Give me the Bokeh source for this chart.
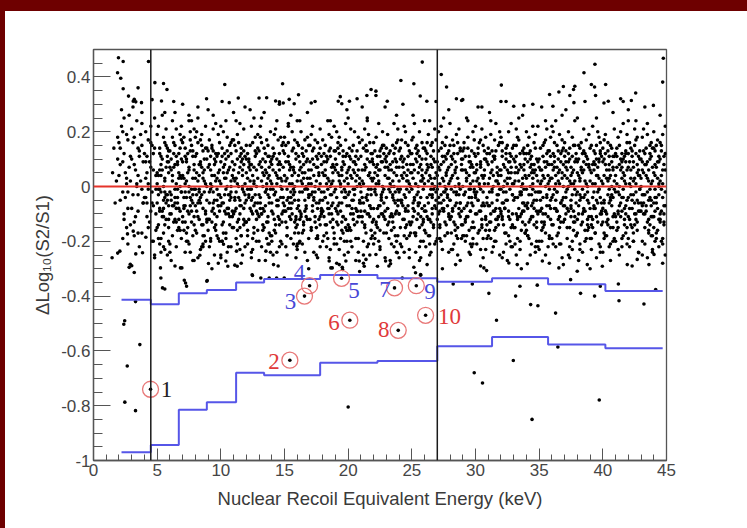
from bokeh.plotting import figure
from bokeh.models import FixedTicker, CustomJSTickFormatter, Span, Div
from bokeh.layouts import column, row
from bokeh.embed import file_html
from bokeh.resources import INLINE
from bokeh.core.properties import value

# ---------------- data ----------------
x_ticks = [0, 5, 10, 15, 20, 25, 30, 35, 40, 45]
x_minor = list(range(0, 46))
y_ticks = [-1.0, -0.8, -0.6, -0.4, -0.2, 0.0, 0.2, 0.4]
y_minor = [round(-1 + 0.05 * i, 2) for i in range(31)]

# dense band, one string per 1 keV column: token = tenth-of-keV digit + y in hundredths
band_1_12 = [
    "5+05 6+14 8+02 9+18 7-06 9+10",
    "0+16 1+08 2+22 3-02 4+12 5+05 6+19 7-08 8+26 9+02 1+14 3+09 5-04 7+17 9+11 2+28 4-12 6+01 8+07 0+04 3+20 6-15",
    "0+10 1-03 2+18 3+06 4+24 5-09 6+13 7+02 8+15 9-06 0+21 2+08 4+00 6+11 8+27 1+16 3-11 5+04 7+19 9+09 2-18 5+14 8-01",
    "0+12 1+03 2-06 3+17 4+09 5+22 6-02 7+06 8+14 9-10 0-04 1+20 2+11 3+01 4-13 5+07 6+15 7-07 8+25 9+04 1+09 3-01 5+16 7+12 9-16 2+05 6-20",
    "0+05 1-03 2+12 3+08 4-11 5+18 6+02 7-06 8+14 9+09 0-15 1+22 2-01 3+04 4+10 5-08 6+16 7+07 8-03 9+13 0+01 1-19 2+06 3+11 4+26 5-05 6+03 7+15 8+09 9-12 0+19 2-09 4+06 6-02 8+11 1+04 3-24 5+00 7+21 9+05 2+14 6-14",
    "0-02 1+10 2+04 3-07 4+15 5+01 6+08 7-12 8+19 9+03 0+13 1-05 2+24 3+07 4-01 5+11 6-16 7+05 8+00 9+17 0+07 1-10 2+02 3+12 4-04 5+21 6+09 7-08 8+14 9-02 1+06 3+16 5-13 7+03 9+10 0-21 2+18 4+08 6-06 8+04 4+27 7+12",
    "0+09 1-04 2+14 3+02 4-09 5+07 6+20 7-01 8+11 9-14 0+16 1+03 2-07 3+10 4+05 5-02 6+13 7+24 8-06 9+08 0-11 1+18 2+01 3-17 4+12 5+06 6-04 7+15 8+03 9+21 1-08 3+09 5+00 7-13 9+06 2+11 4-20 6+17 8-03 0+04 5+26 8+13",
    "0+03 1+12 2-06 3+08 4+17 5-03 6+05 7+10 8-10 9+14 0-07 1+20 2+02 3-01 4+09 5+15 6-14 7+06 8+22 9+00 0+11 1-09 2+16 3+04 4-04 5+07 6+13 7-18 8+01 9+10 1+05 3-12 5+19 7+02 9-05 2+25 4+08 6-22 8+14 0+18 6+03 3-02",
    "0+07 1-02 2+11 3+15 4-08 5+04 6+09 7-05 8+19 9+02 0+13 1-12 2+06 3+00 4+21 5-10 6+12 7+03 8-03 9+16 0-16 1+08 2+01 3+14 4-06 5+10 6+23 7-01 8+05 9-09 1+17 3+04 5-15 7+11 9+06 2-20 4+13 6+02 8-07 0+28 5+08 8+12",
    "0+01 1+14 2+05 3-09 4+10 5+18 6-03 7+07 8+12 9-11 0+09 1-06 2+20 3+03 4-01 5+13 6+06 7-14 8+16 9+04 0-04 1+11 2-17 3+08 4+24 5+00 6-08 7+15 8+02 9+09 1-20 3+12 5+05 7-03 9+17 2+07 4-10 6+11 8+00 0+22 4+03 7-05",
    "0+06 1-05 2+13 3+01 4+16 5-07 6+09 7+04 8-12 9+11 0+17 1+02 2-08 3+10 4+05 5-15 6+14 7+00 8+21 9-03 0-10 1+08 2+03 3+19 4-04 5+11 6-18 7+06 8+13 9+01 1+15 3-13 5+07 7+10 9-06 2+24 4+00 6+12 8-02 0+03 5-23 8+08",
    "0+10 1+03 2-04 3+15 4+08 5-10 6+02 7+18 8+06 9-06 0-13 1+12 2+07 3-01 4+22 5+04 6-07 7+11 8+00 9+14 0+05 1-16 2+09 3+02 4-09 5+16 6+07 7-03 8+12 9+19 1-01 3+06 5-19 7+13 9+03 2+10 4-05 6+25 8-12 0+15 6+01 3+08",
]
band_13_23 = [
    "0-03 1+09 2+16 3-08 4+04 5+12 6+01 7-11 8+07 9+20 0+13 1-06 2+02 3+10 4-15 5+06 6+17 7+03 8-04 9+09 0+08 1+22 2-10 3+00 4+14 5-02 6+05 7+11 8-17 9+02 1+18 3+05 5-07 7+15 9-01 2+07 4+27 6-13 8+11 0-20 5+09 8+04",
    "0+08 1-01 2+12 3+05 4-07 5+17 6+09 7-04 8+02 9+13 0-09 1+06 2+19 3-02 4+10 5+03 6-14 7+08 8+15 9-06 0+01 1+11 2-12 3+21 4+04 5-05 6+12 7+00 8-10 9+07 1+14 3-17 5+08 7+03 9+16 2-03 4+24 6+06 8-21 0+10 4+01 7+18",
    "0+04 1+15 2-05 3+09 4+01 5-12 6+13 7+06 8-02 9+10 0+18 1-09 2+03 3+11 4-06 5+07 6+20 7-03 8+05 9-15 0+12 1+02 2-01 3+16 4+08 5-08 6+04 7+14 8+00 9-11 1+09 3+23 5-04 7+07 9+12 2-18 4+06 6+01 8+17 0-07 5+26 8-13",
    "0+02 1+11 2+06 3-10 4+14 5+03 6-05 7+09 8+18 9+01 0-08 1+15 2-02 3+07 4+12 5-14 6+05 7+00 8+10 9-04 0+16 1+04 2-12 3+20 4+01 5+08 6-09 7+13 8+03 9+06 1-17 3+02 5+11 7-07 9+15 2+09 4-21 6+17 8-01 0+24 4+05 7-11",
    "0+09 1-03 2+13 3+04 4-11 5+07 6+16 7-06 8+01 9+11 0+03 1+19 2-07 3+08 4+00 5-15 6+10 7+05 8+14 9-02 0-12 1+06 2+10 3-04 4+17 5+02 6-08 7+12 8+21 9-09 1+01 3+14 5-19 7+04 9+08 2+22 4-02 6+07 8-14 0+15 5+11 8-05",
    "0+05 1+12 2-04 3+09 4+03 5-08 6+14 7+01 8-12 9+07 0+17 1-02 2+06 3+11 4-06 5+19 6+00 7-10 8+08 9+13 0-05 1+04 2+15 3-14 4+10 5+02 6-03 7+18 8+05 9-17 1+09 3+01 5+13 7-07 9+22 2+04 4-19 6+11 8+02 0-09 4+24 7+07",
    "0-01 1+08 2+14 3+02 4-09 5+06 6+11 7-04 8+17 9+03 0+10 1-13 2+05 3+18 4+00 5-06 6+13 7+08 8-02 9+12 0+06 1+20 2-10 3+04 4+15 5-16 6+09 7+02 8+11 9-07 1-04 3+12 5+07 7-20 9+05 2+16 4+01 6-11 8+23 0+13 5+04 8-15",
    "0+06 1-07 2+10 3+03 4+15 5-03 6+08 7+13 8-11 9+01 0-14 1+11 2+04 3-05 4+09 5+20 6+02 7-09 8+06 9+16 0+01 1+07 2-16 3+13 4-01 5+05 6+11 7-13 8+18 9+03 1+14 3-08 5+09 7+00 9-05 2+21 4+06 6-19 8+10 0+25 4-10 7+04",
    "0+11 1+02 2-06 3+08 4+13 5-10 6+04 7+16 8-03 9+09 0+00 1-11 2+14 3+06 4-04 5+10 6+19 7-07 8+03 9+12 0-09 1+17 2+01 3-14 4+07 5+13 6-01 7+05 8-16 9+10 1+06 3+21 5-05 7+09 9+02 2-20 4+15 6+04 8+12 0-02 5+24 8-08",
    "0+03 1+13 2+07 3-08 4+01 5+11 6-04 7+09 8+15 9-12 0+08 1-02 2+18 3+04 4-11 5+06 6+14 7+00 8-06 9+10 0+16 1+05 2-14 3+11 4+02 5-07 6+09 7+20 8-01 9+04 1-17 3+08 5+13 7-10 9+07 2+01 4+23 6-03 8+12 0-21 4+06 7+15",
    "0-04 1+07 2+12 3+01 4-10 5+15 6+05 7-02 8+09 9+17 0+11 1-08 2+03 3+13 4+06 5-13 6+00 7+10 8+04 9-05 0+14 1+19 2-01 3+08 4-16 5+02 6+12 7-06 8+07 9+21 1+03 3-11 5+09 7+14 9-18 2+06 4+00 6-22 8+16 0+09 5-03 8+26",
]
band_24_34 = [
    "0+07 1-01 2+11 3-12 4+05 5+16 6+02 7-07 8+13 9+08 0-10 1+14 2+04 3+09 4-03 5+20 6-14 7+06 8+01 9+12 0+02 1-05 2+17 3+07 4+10 5-09 6+04 7+15 8-18 9+00 1+10 3+03 5-15 7+11 9+05 2-06 4+22 6+08 8-02 0+13 4-24 7+02",
    "0+12 1+03 2-05 3+10 4+15 5-02 6+07 7-11 8+04 9+14 0+05 1+18 2-09 3+01 4+09 5+13 6-06 7+02 8+16 9-13 0-01 1+08 2+06 3-17 4+12 5+00 6+20 7-04 8+10 9+03 1-08 3+14 5+05 7+08 9-20 2+23 4-12 6+11 8+02 0+17 5-07 8+06",
    "0+01 1+10 2+16 3-06 4+04 5+08 6-10 7+13 8+03 9-02 0+14 1-09 2+06 3+19 4-03 5+11 6+01 7-15 8+09 9+17 0-07 1+05 2+12 3+02 4-12 5+15 6+07 7-01 8+21 9+05 1+13 3-18 5+03 7+10 9-08 2+08 4-21 6+16 8+00 0+24 6-04 3+07",
    "0+09 1-04 2+06 3+14 4-08 5+02 6+11 7+18 8-03 9+07 0-12 1+13 2+01 3-06 4+16 5+09 6-02 7+05 8+12 9-10 0+04 1+20 2-14 3+08 4+03 5-05 6+15 7+10 8-17 9+01 1+07 3+22 5-09 7+04 9+13 2-19 4+11 6+00 8+06 0-01 5+25 8-07",
    "0+02 1+08 2-09 3+12 4+05 5-03 6+16 7+00 8-06 9+10 0+15 1-01 2+04 3-13 4+09 5+19 6+03 7-08 8+14 9+06 0-05 1+11 2+17 3-02 4-16 5+07 6+12 7+01 8-11 9+08 1+03 3+15 5-06 7+21 9-14 2+10 4+00 6-19 8+13 0+23 4+06 7-03",
    "0+06 1+14 2-02 3+05 4-11 5+09 6+01 7+13 8-07 9+17 0+00 1-08 2+11 3+03 4+18 5-04 6+07 7-15 8+02 9+12 0+10 1-03 2+06 3-18 4+14 5+04 6-09 7+08 8+20 9-01 1+16 3+02 5+11 7-06 9+05 2-13 4+24 6+09 8-21 0+13 5-01 8+07",
    "0-03 1+06 2+12 3+01 4+08 5-07 6+15 7+04 8-12 9+09 0+11 1+02 2-05 3+16 4+07 5-14 6+03 7+10 8+18 9-04 0+05 1-10 2+14 3+00 4+09 5+21 6-02 7+06 8-16 9+12 1+08 3-09 5+04 7+13 9-19 2+03 4+17 6-06 8+10 0+22 4-23 7+01",
    "0+08 1-02 2+05 3+13 4-09 5+10 6+02 7-05 8+15 9+06 0-07 1+12 2+19 3-01 4+04 5+11 6-12 7+07 8+01 9+16 0+14 1+03 2-10 3+09 4+00 5-16 6+13 7+05 8-03 9+20 1-13 3+06 5+10 7+02 9-08 2+24 4+11 6-20 8+04 0+01 5+17 8-11",
    "0+04 1+11 2-06 3+07 4+14 5+01 6-09 7+12 8+05 9-03 0+18 1-11 2+08 3+02 4-05 5+15 6+09 7-01 8+11 9-14 0+06 1+16 2+00 3-08 4+10 5+03 6+20 7-12 8+07 9+01 1+13 3-17 5+06 7+09 9+14 2-02 4-21 6+05 8+23 0-10 4+12 7+03",
    "0+10 1+02 2+15 3-04 4+06 5+12 6-10 7+03 8+08 9-07 0+01 1-15 2+11 3+05 4+17 5-02 6+07 7+13 8-09 9+04 0-05 1+09 2+21 3-12 4+02 5+08 6+00 7-06 8+14 9+10 1+05 3+18 5-11 7+01 9-17 2+07 4+25 6-03 8+12 0+15 5-20 8+06",
    "0-01 1+09 2+04 3+13 4-07 5+06 6+16 7-02 8+10 9+02 0+12 1-06 2+18 3+00 4+08 5-11 6+05 7+14 8-05 9+09 0+03 1+15 2-13 3+07 4+11 5+01 6-08 7+19 8+04 9-10 1-18 3+10 5+03 7+06 9+22 2+12 4-03 6+08 8-15 0+20 4+05 7-22",
]
band_35_44 = [
    "0+07 1+01 2-08 3+11 4+03 5+17 6-04 7+08 8+13 9-12 0-02 1+14 2+06 3-10 4+09 5+00 6+12 7+04 8-07 9+18 0+10 1-05 2+02 3+15 4-14 5+07 6+21 7+01 8-01 9+11 1+06 3+04 5-17 7+13 9+03 2-20 4+16 6+09 8+02 0-09 5+24 8+08",
    "0+03 1+12 2+07 3-05 4+15 5+02 6-11 7+09 8+05 9+14 0+08 1-03 2+11 3+01 4-09 5+13 6+06 7-06 8+17 9+00 0-14 1+06 2+16 3+04 4-02 5+10 6+19 7-13 8+03 9+08 1+20 3-08 5+05 7+12 9-04 2+09 4-18 6+01 8+13 0+22 4+07 7-21",
    "0+11 1-04 2+03 3+09 4+14 5-08 6+05 7+01 8-13 9+10 0+16 1+07 2-01 3+12 4+02 5-11 6+18 7+06 8+09 9-06 0+04 1+13 2-15 3+00 4+10 5+07 6-03 7+15 8+02 9-18 1+09 3+20 5+04 7-09 9+12 2+06 4-22 6+11 8+24 0-07 5+01 8+15",
    "0+05 1+10 2-03 3+07 4-10 5+13 6+02 7+17 8-05 9+08 0-12 1+04 2+14 3+06 4-01 5+09 6-16 7+11 8+00 9+19 0+09 1-07 2+03 3+16 4+05 5-09 6+12 7+01 8-14 9+07 1+15 3-04 5+21 7+08 9-11 2+02 4+12 6-20 8+10 0+25 5+06 8-02",
    "0+02 1+15 2+08 3-07 4+12 5+04 6-02 7+10 8+16 9-09 0+06 1-11 2+01 3+13 4+08 5-05 6+20 7+03 8-10 9+11 0+14 1+05 2-04 3+09 4-17 5+15 6+07 7-01 8+12 9+02 1-14 3+06 5+10 7+18 9-06 2+22 4-08 6+04 8+13 0-19 4+01 7+09",
    "0+09 1-06 2+12 3+03 4-12 5+08 6+15 7-03 8+06 9+11 0+01 1+17 2-09 3+06 4+13 5-01 6+04 7+09 8-15 9+02 0-08 1+10 2+19 3-13 4+02 5+11 6-05 7+14 8+07 9+21 1+04 3-18 5+06 7+00 9-10 2+08 4+16 6-21 8+11 0+14 5+03 8-04",
    "0+04 1+11 2-02 3+15 4+06 5-09 6+10 7+02 8+13 9-05 0-11 1+07 2+18 3+00 4-06 5+12 6+05 7-14 8+09 9+16 0+12 1+01 2-10 3+08 4+20 5+03 6-04 7+11 8-17 9+06 1+14 3-07 5+09 7+04 9+19 2-15 4+10 6+23 8+01 0-20 5+07 8+12",
    "0+07 1+01 2+14 3-08 4+09 5+03 6+17 7-05 8+04 9+10 0+12 1-12 2+06 3+11 4-03 5+15 6+01 7+08 8-09 9+13 0-04 1+16 2+03 3-15 4+07 5+21 6-10 7+05 8+11 9-01 1+09 3+13 5-06 7+18 9+04 2+00 4-20 6+12 8+06 0+24 4+02 7-13",
    "0+10 1-03 2+05 3+12 4-07 5+09 6+02 7+15 8-11 9+07 0+03 1+18 2-06 3+08 4+14 5-13 6+06 7-01 8+11 9+02 0-09 1+09 2+13 3-03 4+04 5+19 6-16 7+10 8+01 9+14 1+06 3-10 5+03 7+12 9-18 2+21 4+08 6-05 8+16 0+00 5+23 8-07",
    "0+05 1+13 2-04 3+09 4+01 5+16 6-09 7+06 8+11 9-02 0-06 1+08 2+15 3+03 4-12 5+10 6+04 7+19 8-07 9+12 0+14 1-01 2+07 3-16 4+11 5+02 6+13 7-04 8+08 9+22 1+04 3+17 5-10 7+01 9+06 2-19 4+09 6+15 8-13 0+20 4+00 7-21",
]
# lower half of the band, same encoding, columns 2..23 and 24..44
neg_2_23 = [
    "1-05 4-10 7-02 9-14 3-19 6+03",
    "0-08 2-13 5-03 8-17 4+01 9-06 6-22",
    "1-04 3-15 5-09 7-20 9-01 2-11 6-06 8-25",
    "0-06 1-14 2-21 3-02 4-09 5-17 6-04 7-12 8-25 9-07 1-01 3-19 5-11 7-03 9-15 2-08 6-23 8-05",
    "0-10 1-03 2-18 3-13 4-06 5-22 6-01 7-15 8-09 9-19 0-24 2-07 4-12 6-04 8-16 1-27 5-08 9-02",
    "0-13 1-07 2-02 3-20 4-15 5-10 6-24 7-05 8-18 9-11 1-16 3-04 5-21 7-09 9-01 2-13 6-07 8-27",
    "0-01 1-17 2-11 3-05 4-23 5-14 6-08 7-02 8-20 9-12 0-16 2-26 4-06 6-18 8-09 1-03 5-22 9-13",
    "0-12 1-06 2-19 3-09 4-02 5-25 6-14 7-18 8-07 9-03 1-22 3-13 5-05 7-11 9-20 2-01 6-16 8-28",
    "0-07 1-20 2-13 3-03 4-17 5-08 6-22 7-11 8-02 9-15 0-26 2-06 4-19 6-10 8-04 1-14 5-24 9-09",
    "0-15 1-09 2-02 3-21 4-12 5-05 6-18 7-25 8-08 9-13 1-04 3-16 5-10 7-01 9-22 2-19 6-07 8-14",
    "0-05 1-18 2-12 3-08 4-01 5-23 6-15 7-06 8-20 9-10 0-13 2-03 4-26 6-17 8-09 1-21 5-04 9-16",
    "0-11 1-04 2-22 3-16 4-09 5-02 6-19 7-13 8-06 9-24 1-08 3-14 5-27 7-03 9-18 2-10 6-01 8-21",
    "0-18 1-10 2-03 3-14 4-24 5-07 6-12 7-20 8-01 9-09 0-06 2-16 4-05 6-22 8-13 1-25 5-11 9-04",
    "0-09 1-22 2-15 3-04 4-11 5-19 6-06 7-01 8-17 9-26 1-13 3-08 5-02 7-21 9-12 2-18 6-10 8-05",
    "0-14 1-05 2-20 3-11 4-02 5-16 6-24 7-08 8-12 9-03 0-21 2-09 4-17 6-01 8-27 1-07 5-13 9-19",
    "0-03 1-16 2-09 3-24 4-13 5-06 6-19 7-01 8-22 9-10 1-15 3-05 5-25 7-12 9-08 2-02 6-18 8-11",
    "0-20 1-11 2-04 3-17 4-08 5-26 6-13 7-03 8-15 9-21 0-09 2-14 4-01 6-23 8-06 1-18 5-10 9-02",
    "0-08 1-21 2-14 3-06 4-19 5-02 6-11 7-25 8-04 9-16 1-09 3-23 5-13 7-01 9-20 2-07 6-17 8-12",
    "0-16 1-02 2-10 3-22 4-05 5-14 6-27 7-09 8-19 9-06 0-03 2-20 4-12 6-08 8-24 1-15 5-01 9-11",
    "0-06 1-13 2-25 3-09 4-17 5-03 6-21 7-11 8-01 9-18 1-04 3-15 5-22 7-07 9-13 2-28 6-10 8-19",
    "0-12 1-19 2-03 3-15 4-07 5-23 6-10 7-02 8-17 9-26 0-08 2-13 4-20 6-05 8-11 1-01 5-16 9-09",
    "0-17 1-08 2-13 3-02 4-21 5-11 6-05 7-18 8-24 9-07 1-14 3-27 5-04 7-10 9-01 2-19 6-15 8-09",
]
neg_24_44 = [
    "0-02 1-15 2-22 3-07 4-12 5-04 6-19 7-09 8-26 9-14 0-10 2-05 4-18 6-01 8-13 1-21 5-08 9-17",
    "0-13 1-06 2-17 3-24 4-03 5-10 6-15 7-20 8-08 9-01 1-11 3-18 5-06 7-26 9-12 2-04 6-22 8-14",
    "0-09 1-22 2-04 3-12 4-18 5-01 6-08 7-14 8-21 9-05 0-16 2-11 4-25 6-03 8-07 1-17 5-13 9-20",
    "0-19 1-10 2-15 3-03 4-23 5-08 6-13 7-01 8-17 9-11 1-06 3-20 5-02 7-14 9-24 2-09 6-18 8-04",
    "0-05 1-17 2-08 3-21 4-14 5-02 6-25 7-10 8-06 9-19 0-12 2-23 4-07 6-15 8-01 1-11 5-18 9-09",
    "0-14 1-03 2-20 3-11 4-06 5-16 6-09 7-22 8-13 9-02 1-18 3-07 5-24 7-04 9-15 2-12 6-01 8-19",
    "0-10 1-21 2-05 3-16 4-01 5-12 6-19 7-07 8-23 9-14 0-04 2-17 4-09 6-26 8-11 1-02 5-15 9-06",
    "0-18 1-07 2-13 3-02 4-22 5-09 6-15 7-03 8-11 9-25 1-16 3-06 5-20 7-12 9-01 2-19 6-08 8-14",
    "0-01 1-12 2-24 3-08 4-17 5-05 6-11 7-20 8-15 9-03 0-09 2-14 4-02 6-18 8-22 1-06 5-27 9-10",
    "0-15 1-04 2-10 3-19 4-08 5-23 6-02 7-13 8-06 9-17 1-21 3-11 5-03 7-09 9-14 2-25 6-16 8-01",
    "0-07 1-18 2-03 3-12 4-21 5-06 6-14 7-24 8-09 9-02 0-16 2-19 4-11 6-05 8-13 1-08 5-01 9-22",
    "0-20 1-09 2-16 3-04 4-13 5-25 6-07 7-11 8-18 9-05 1-02 3-15 5-10 7-22 9-08 2-13 6-03 8-19",
    "0-04 1-14 2-08 3-22 4-02 5-17 6-11 7-06 8-26 9-13 0-19 2-01 4-09 6-15 8-05 1-21 5-12 9-07",
    "0-12 1-02 2-19 3-09 4-15 5-05 6-23 7-13 8-01 9-18 1-10 3-25 5-07 7-16 9-03 2-08 6-20 8-11",
    "0-17 1-10 2-05 3-14 4-24 5-08 6-03 7-19 8-12 9-06 0-02 2-21 4-13 6-09 8-16 1-27 5-04 9-15",
    "0-08 1-23 2-12 3-02 4-17 5-11 6-06 7-21 8-04 9-14 1-19 3-08 5-26 7-01 9-10 2-15 6-13 8-22",
    "0-13 1-05 2-18 3-10 4-03 5-22 6-15 7-07 8-20 9-01 0-24 2-09 4-14 6-04 8-11 1-17 5-06 9-19",
    "0-02 1-16 2-09 3-25 4-11 5-04 6-18 7-12 8-07 9-21 1-13 3-03 5-19 7-08 9-15 2-23 6-01 8-10",
    "0-19 1-08 2-14 3-05 4-20 5-10 6-02 7-16 8-24 9-09 0-11 2-03 4-17 6-12 8-06 1-22 5-14 9-01",
    "0-06 1-20 2-03 3-15 4-09 5-26 6-12 7-04 8-18 9-11 1-07 3-21 5-02 7-14 9-24 2-10 6-17 8-05",
    "0-11 1-04 2-17 3-08 4-22 5-13 6-01 7-19 8-10 9-25 0-15 2-06 4-03 6-20 8-14 1-09 5-12 9-07",
]

fringe_x = [2.4, 3.1, 3.8, 5.6, 6.3, 7.5, 8.2, 9.4, 10.1, 11.5, 12.3, 13.2, 14.6, 15.3, 16.8, 17.4, 18.6, 19.9,
            20.7, 21.5, 22.9, 23.6, 24.3, 25.1, 26.4, 27.9, 28.5, 29.3, 30.2, 31.6, 32.4, 33.7, 34.5, 35.2, 36.3,
            37.1, 38.6, 39.5, 40.8, 41.4, 42.6, 43.3, 44.5, 6.9, 11.0, 16.2, 21.1, 26.9, 31.1, 36.8, 42.0,
            2.7, 3.5, 4.8, 5.5, 6.4, 7.2, 7.9, 8.6, 9.3, 10.0, 10.8, 11.6, 12.4, 13.0, 13.7, 14.5, 15.2, 16.0,
            16.9, 17.6, 18.3, 19.1, 20.0, 20.9, 21.7, 22.5, 23.2, 24.0, 24.8, 25.6, 26.5, 27.4, 28.1, 28.8, 29.6,
            30.4, 31.3, 32.1, 32.9, 33.6, 34.3, 35.0, 35.8, 36.6, 37.4, 38.2, 39.0, 39.8, 40.6, 41.5, 42.3, 43.1,
            43.9, 44.7, 5.9, 9.8, 14.0, 18.9, 23.8, 29.0, 34.8, 40.1, 44.1]
fringe_y = [0.25, 0.29, 0.23, 0.27, 0.31, 0.24, 0.29, 0.26, 0.31, 0.23, 0.28, 0.25, 0.30, 0.22, 0.27, 0.31, 0.24, 0.28,
            0.32, 0.25, 0.29, 0.23, 0.30, 0.26, 0.24, 0.28, 0.32, 0.25, 0.29, 0.23, 0.31, 0.26, 0.22, 0.29, 0.24,
            0.28, 0.31, 0.25, 0.27, 0.32, 0.24, 0.29, 0.26, 0.22, 0.27, 0.24, 0.29, 0.31, 0.27, 0.26, 0.28,
            -0.21, -0.17, -0.26, -0.22, -0.29, -0.24, -0.27, -0.21, -0.30, -0.25, -0.22, -0.28, -0.24, -0.27, -0.21, -0.29, -0.25, -0.23,
            -0.30, -0.26, -0.22, -0.28, -0.24, -0.31, -0.25, -0.22, -0.29, -0.26, -0.23, -0.27, -0.24, -0.30, -0.23, -0.27, -0.21,
            -0.29, -0.24, -0.26, -0.22, -0.30, -0.25, -0.23, -0.28, -0.21, -0.26, -0.23, -0.30, -0.24, -0.27, -0.22, -0.29, -0.25,
            -0.23, -0.28, -0.20, -0.19, -0.20, -0.19, -0.20, -0.18, -0.20, -0.19, -0.20]

outlier_x = [1.96, 2.33, 4.32, 1.89, 2.14, 4.82, 5.5, 2.33, 3.5, 10.31, 14.85, 2.75, 3.2, 3.12, 3.32, 3.77, 5.34, 8.88,
             10.66, 11.37, 13.0, 13.6, 14.3, 14.6, 14.9, 15.37, 16.1, 15.76, 19.38, 19.22, 19.5, 21.47, 22.18, 22.18,
             25.82, 27.31, 27.73, 24.14, 25.16, 25.66, 26.18, 23.07, 28.91, 32.03, 33.0, 33.8, 39.38, 38.52, 44.75,
             44.7, 36.9, 37.8, 37.7, 39.1, 39.35, 40.22, 35.82, 36.55, 37.41, 39.43, 42.58, 36.08, 37.73, 40.09, 40.43,
             42.24, 43.97, 32.0, 41.6, 29.0, 34.5, 30.5, 5.77, 4.6, 17.1, 20.1, 21.8, 11.9, 7.0,
             1.46, 1.9, 2.07, 2.8, 3.0, 3.32, 3.85, 2.67, 3.12, 4.11, 5.29, 5.42, 6.94, 7.13, 7.31, 8.35, 8.9, 9.03,
             10.21, 10.39, 11.1, 11.23, 12.49, 13.14, 13.8, 14.38, 14.98, 14.14, 13.54, 15.97, 16.16, 18.51, 18.64,
             19.3, 19.56, 19.82, 20.87, 21.4, 22.18, 21.26, 22.3, 22.94, 23.33, 23.86, 25.29, 25.69, 26.2, 28.44,
             29.6, 30.66, 30.87, 32.62, 33.28, 34.07, 35.25, 36.55, 36.9, 37.47, 37.99, 38.78, 39.96, 41.22, 41.92,
             42.7, 42.83, 43.62, 44.02, 28.25, 29.75, 33.49, 34.85, 39.8, 31.05, 33.15, 34.33, 34.9, 36.29, 38.25,
             39.35, 41.27, 43.23, 44.15, 31.65, 36.47, 32.97, 29.9, 30.55, 34.44, 39.72, 20.0, 2.45, 2.38, 3.64,
             2.65, 2.46, 3.3, 3.3, 3.2, 2.89, 5.26, 5.6, 6.83, 7.23, 8.93, 10.55, 11.29, 12.46, 18.75, 19.54, 25.16,
             25.69, 24.25]
outlier_y = [0.47, 0.456, 0.456, 0.415, 0.395, 0.379, 0.376, 0.357, 0.36, 0.372, 0.375, 0.33, 0.318, 0.311, 0.309, 0.306, 0.312, 0.32,
             0.306, 0.323, 0.323, 0.324, 0.312, 0.309, 0.305, 0.318, 0.335, 0.302, 0.328, 0.311, 0.302, 0.332, 0.348, 0.332,
             0.454, 0.409, 0.363, 0.387, 0.375, 0.33, 0.311, 0.311, 0.314, 0.37, 0.293, 0.295, 0.446, 0.415, 0.468,
             0.381, 0.365, 0.366, 0.354, 0.372, 0.363, 0.372, 0.336, 0.345, 0.332, 0.332, 0.341, 0.293, 0.306, 0.305, 0.311,
             0.314, 0.296, 0.31, 0.31, 0.317, 0.30, 0.29, 0.354, 0.317, 0.305, 0.311, 0.354, 0.29, 0.30,
             -0.26, -0.243, -0.236, -0.295, -0.289, -0.246, -0.242, -0.173, -0.163, -0.185, -0.334, -0.37, -0.297, -0.342, -0.364, -0.251, -0.346, -0.281,
             -0.211, -0.272, -0.287, -0.236, -0.325, -0.334, -0.334, -0.334, -0.334, -0.285, -0.236, -0.218, -0.206, -0.272, -0.297,
             -0.285, -0.303, -0.272, -0.272, -0.266, -0.248, -0.291, -0.291, -0.272, -0.282, -0.242, -0.315, -0.324, -0.285, -0.285,
             -0.248, -0.297, -0.307, -0.279, -0.285, -0.282, -0.272, -0.297, -0.285, -0.34, -0.309, -0.285, -0.291, -0.356, -0.285,
             -0.266, -0.242, -0.285, -0.248, -0.356, -0.356, -0.364, -0.36, -0.364, -0.39, -0.40, -0.431, -0.435, -0.462, -0.39,
             -0.40, -0.417, -0.429, -0.376, -0.488, -0.586, -0.635, -0.68, -0.717, -0.85, -0.779, -0.805, -0.49, -0.503, -0.577,
             -0.655, -0.787, -0.818, -0.42, -0.314, -0.284, -0.297, -0.374, -0.297, -0.352, -0.343, -0.291, -0.291, -0.322, -0.297, -0.295, -0.295,
             -0.321, -0.334]

event_x = [4.48, 15.42, 16.57, 16.97, 19.48, 20.13, 23.64, 23.93, 25.35, 26.08]
event_y = [-0.74, -0.634, -0.40, -0.362, -0.335, -0.488, -0.37, -0.525, -0.362, -0.47]
event_labels = ["1", "2", "3", "4", "5", "6", "7", "8", "9", "10"]
label_x = [5.73, 14.17, 15.47, 16.18, 20.45, 18.88, 22.9, 22.8, 26.42, 27.95]
label_y = [-0.742, -0.638, -0.419, -0.315, -0.378, -0.498, -0.375, -0.523, -0.383, -0.474]
label_colors = ["#222222", "#e03a3a", "#4848d6", "#4848d6", "#4848d6", "#e03a3a", "#4848d6", "#e03a3a", "#4848d6", "#e03a3a"]

bin_edges = [2.2, 4.5, 6.7, 8.9, 11.2, 13.4, 17.8, 22.3, 27.0, 31.3, 35.7, 40.2, 44.7]
upper_band = [-0.413, -0.430, -0.390, -0.378, -0.350, -0.338, -0.323, -0.335, -0.348, -0.335, -0.357, -0.381]
lower_band = [-0.970, -0.943, -0.815, -0.787, -0.680, -0.689, -0.643, -0.637, -0.583, -0.549, -0.577, -0.590]

cut_lines = [4.5, 27.0]


def decode(start, rows):
    xs, ys = [], []
    for i, r in enumerate(rows):
        for tok in r.split():
            xs.append(start + i + int(tok[0]) / 10)
            ys.append(int(tok[1:]) / 100)
    return xs, ys


dots_x, dots_y = [], []
for start, rows in ((1, band_1_12), (13, band_13_23), (24, band_24_34), (35, band_35_44),
                    (2, neg_2_23), (24, neg_24_44)):
    bx, by = decode(start, rows)
    dots_x += bx
    dots_y += by
dots_x += fringe_x + outlier_x + event_x
dots_y += fringe_y + outlier_y + event_y

# ---------------- figure ----------------
FONT = "Liberation Sans"
TXT = "#454545"
p = figure(width=742, height=517, x_range=(0, 45), y_range=(-1, 0.5),
           output_backend="svg", toolbar_location=None,
           min_border_left=88, min_border_right=81, min_border_top=38, min_border_bottom=68,
           background_fill_color="white", border_fill_color="white")
p.outline_line_color = "#555555"
p.outline_line_width = 1.3
p.xgrid.visible = False
p.ygrid.visible = False

p.xaxis.ticker = FixedTicker(ticks=x_ticks, minor_ticks=x_minor)
p.yaxis.ticker = FixedTicker(ticks=y_ticks, minor_ticks=y_minor)
p.yaxis.formatter = CustomJSTickFormatter(code="return (Math.round(tick*10)/10).toString();")

for ax in (p.xaxis[0], p.yaxis[0]):
    ax.axis_line_color = "#555555"
    ax.axis_line_width = 1.3
    ax.major_tick_line_color = "#555555"
    ax.minor_tick_line_color = "#555555"
    ax.major_tick_out = 0
    ax.minor_tick_out = 0
    ax.major_label_text_font = FONT
    ax.major_label_text_font_size = "17px"
    ax.major_label_text_color = TXT
    ax.axis_label_text_font = FONT
    ax.axis_label_text_font_style = "normal"
    ax.axis_label_text_color = "#3a3a3a"
    ax.axis_label_text_font_size = "18.5px"

p.xaxis.major_tick_in = 12
p.xaxis.minor_tick_in = 6
p.yaxis.major_tick_in = 17
p.yaxis.minor_tick_in = 9
p.xaxis.major_label_standoff = 3
p.yaxis.major_label_standoff = 3
p.xaxis.axis_label_standoff = 9
p.yaxis.axis_label_standoff = 5
p.xaxis.axis_label = "Nuclear Recoil Equivalent Energy (keV)"
p.yaxis.axis_label = "\u0394Log\u2081\u2080(S2/S1)"

p.scatter(dots_x, dots_y, size=3.6, color="black", line_width=0)

p.add_layout(Span(location=0.0, dimension="width", line_color="#e5332a", line_width=2))
for c in cut_lines:
    p.add_layout(Span(location=c, dimension="height", line_color="#1a1a1a", line_width=1.5))

p.step(bin_edges, upper_band + [upper_band[-1]], mode="after", line_color="#5656e8", line_width=2)
p.step(bin_edges, lower_band + [lower_band[-1]], mode="after", line_color="#5656e8", line_width=2)

p.scatter(event_x, event_y, size=16, marker="circle", fill_color=None, line_color="#e87878", line_width=1.3)
p.text(label_x, label_y, text=event_labels, text_color=label_colors, text_font=value("Liberation Serif"),
       text_font_size="23px", text_align="center", text_baseline="middle")

top_bar = Div(width=747, height=11, margin=0, styles={"background-color": "#6e0000"})
left_bar = Div(width=5, height=517, margin=0, styles={"background-color": "#6e0000"})
layout = column(top_bar, row(left_bar, p, spacing=0), spacing=0)

open("out.html", "w").write(file_html(layout, INLINE))
